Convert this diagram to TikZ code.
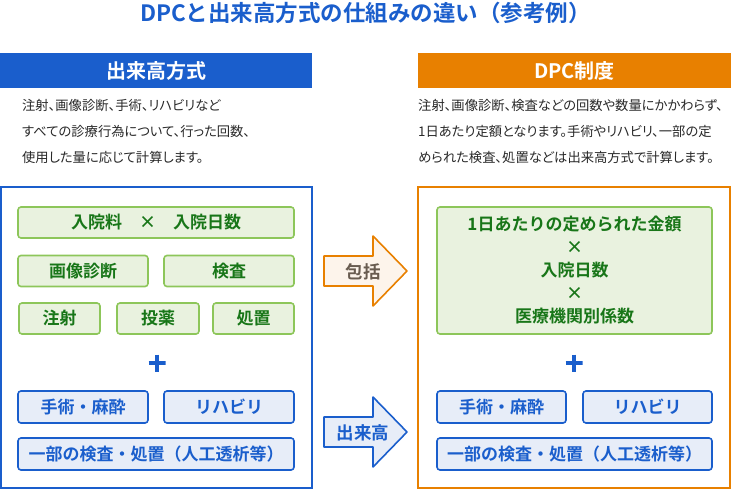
\documentclass[tikz,border=0pt]{standalone}
\usepackage{fontspec}
\setmainfont{Noto Sans CJK JP}[BoldFont={Noto Sans CJK JP Bold}]
\newfontfamily\descfont{Noto Sans CJK JP}[RawFeature=+palt]
\definecolor{dblue}{RGB}{26,94,204}
\definecolor{dorange}{RGB}{232,128,0}
\definecolor{gborder}{RGB}{141,198,90}
\definecolor{gfill}{RGB}{233,242,223}
\definecolor{gtext}{RGB}{24,118,24}
\definecolor{bfill}{RGB}{231,237,248}
\definecolor{ofill}{RGB}{253,244,235}
\definecolor{otext}{RGB}{105,92,80}
\definecolor{desctext}{RGB}{40,40,40}
\tikzset{
  boxfont/.style={font=\fontsize{17}{19}\selectfont\bfseries},
  gbox/.style={draw=gborder, fill=gfill, line width=1.6pt, rounded corners=3pt, text=gtext, boxfont, inner sep=0pt},
  bbox/.style={draw=dblue, fill=bfill, line width=1.6pt, rounded corners=3pt, text=dblue, boxfont, inner sep=0pt},
  header/.style={inner sep=0pt, text=white, font=\fontsize{20}{22}\selectfont\bfseries, minimum height=35pt},
  outerbox/.style={line width=2pt, inner sep=0pt},
  descline/.style={anchor=west, inner sep=0pt, text=desctext, font=\descfont\fontsize{13.3}{15}\selectfont},
  plusmark/.style={minimum size=17pt, inner sep=0pt, path picture={\draw[dblue, line width=3.5pt] (path picture bounding box.west) -- (path picture bounding box.east) (path picture bounding box.north) -- (path picture bounding box.south);}},
  arrowtext/.style={inner sep=0pt, font=\fontsize{17.5}{19}\selectfont\bfseries}
}
\begin{document}
\begin{tikzpicture}[x=1pt, y=-1pt]
\useasboundingbox (0,0) rectangle (731,490);
% title
\node[text=dblue, font=\fontsize{22.5}{24}\selectfont\bfseries, inner sep=0pt] (title) at (365.5,13) {DPCと出来高方式の仕組みの違い（参考例）};
% headers
\node[header, fill=dblue, minimum width=312pt] (hleft) at (156,70.5) {出来高方式};
\node[header, fill=dorange, minimum width=313pt] (hright) at (574.5,70.5) {DPC制度};
% descriptions
\node[descline] (dl1) at (22,105) {注射、画像診断、手術、リハビリなど};
\node[descline] (dl2) at (22,131) {すべての診療行為について、行った回数、};
\node[descline] (dl3) at (22,157) {使用した量に応じて計算します。};
\node[descline] (dr1) at (418,105) {注射、画像診断、検査などの回数や数量にかかわらず、};
\node[descline] (dr2) at (418,131) {1日あたり定額となります。手術やリハビリ、一部の定};
\node[descline] (dr3) at (418,157) {められた検査、処置などは出来高方式で計算します。};
% outer boxes
\node[outerbox, draw=dblue, minimum width=311pt, minimum height=301pt] (lbox) at (156.5,337.5) {};
\node[outerbox, draw=dorange, minimum width=312pt, minimum height=301pt] (rbox) at (574,337.5) {};
% left contents
\node[gbox, minimum width=276pt, minimum height=31pt] (l1) at (156,222.5) {入院料\hspace{1em}×\hspace{1em}入院日数};
\node[gbox, minimum width=130pt, minimum height=31pt] (l2a) at (83,271) {画像診断};
\node[gbox, minimum width=130pt, minimum height=31pt] (l2b) at (229,271) {検査};
\node[gbox, minimum width=81pt, minimum height=31pt] (l3a) at (59.5,318.5) {注射};
\node[gbox, minimum width=82pt, minimum height=31pt] (l3b) at (158,318.5) {投薬};
\node[gbox, minimum width=81pt, minimum height=31pt] (l3c) at (253.5,318.5) {処置};
\node[plusmark] (lplus) at (157,363) {};
\node[bbox, minimum width=130pt, minimum height=32pt] (l4a) at (83,407) {手術・麻酔};
\node[bbox, minimum width=130pt, minimum height=32pt] (l4b) at (229,407) {リハビリ};
\node[bbox, minimum width=276pt, minimum height=32pt] (l5) at (156,454) {一部の検査・処置（人工透析等）};
% right contents
\node[gbox, minimum width=275pt, minimum height=127pt, align=center, font=\fontsize{17}{23}\selectfont\bfseries] (r1) at (574.5,270.5) {1日あたりの定められた金額\\×\\入院日数\\×\\医療機関別係数};
\node[plusmark] (rplus) at (574,363) {};
\node[bbox, minimum width=129pt, minimum height=32pt] (r4a) at (501.5,407) {手術・麻酔};
\node[bbox, minimum width=129pt, minimum height=32pt] (r4b) at (647.5,407) {リハビリ};
\node[bbox, minimum width=275pt, minimum height=32pt] (r5) at (574.5,454) {一部の検査・処置（人工透析等）};
% arrows
\draw[draw=dorange, fill=ofill, line width=1.6pt, line join=round] (324,256) -- (373,256) -- (373,236) -- (407,271) -- (373,306) -- (373,286) -- (324,286) -- cycle;
\node[arrowtext, text=otext] (a1) at (363,271.5) {包括};
\draw[draw=dblue, fill=bfill, line width=1.6pt, line join=round] (324,417) -- (373,417) -- (373,397) -- (407,432) -- (373,467) -- (373,447) -- (324,447) -- cycle;
\node[arrowtext, text=dblue] (a2) at (363,432.5) {出来高};
\end{tikzpicture}
\end{document}
